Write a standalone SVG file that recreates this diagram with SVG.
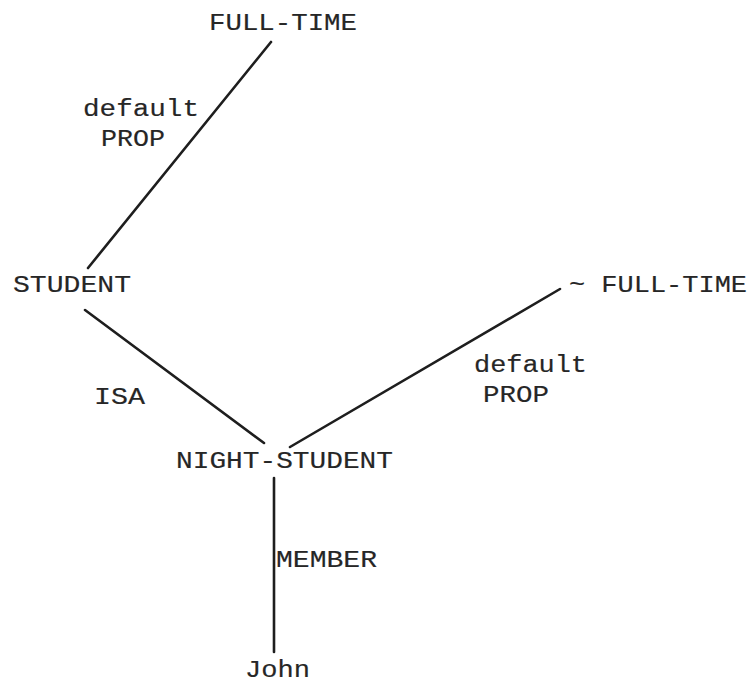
<svg xmlns="http://www.w3.org/2000/svg" width="752" height="688" viewBox="0 0 752 688">
  <style>
    .lbl { font-family: "Liberation Mono", "DejaVu Sans Mono", monospace; font-size: 23px; fill: #262626; stroke: #262626; stroke-width: 0.15; }
    .edge { stroke: #1e1e1e; stroke-width: 2.6; stroke-linecap: round; fill: none; }
  </style>
  <rect width="752" height="688" fill="#ffffff"/>

  <!-- connectors -->
  <g id="connectors">
    <line class="edge" x1="271" y1="42" x2="88" y2="268"/>
    <line class="edge" x1="85" y1="310" x2="264" y2="443"/>
    <line class="edge" x1="560" y1="289" x2="290" y2="447"/>
    <line class="edge" x1="274" y1="478" x2="274" y2="652"/>
    <text class="lbl" x="83" y="116" textLength="116" lengthAdjust="spacingAndGlyphs">default</text>
    <text class="lbl" x="101" y="146" textLength="64" lengthAdjust="spacingAndGlyphs">PROP</text>
    <text class="lbl" x="94" y="404" textLength="51" lengthAdjust="spacingAndGlyphs">ISA</text>
    <text class="lbl" x="474" y="372" textLength="113" lengthAdjust="spacingAndGlyphs">default</text>
    <text class="lbl" x="483" y="402" textLength="66" lengthAdjust="spacingAndGlyphs">PROP</text>
    <text class="lbl" x="276" y="567" textLength="101" lengthAdjust="spacingAndGlyphs">MEMBER</text>
  </g>

  <!-- nodes -->
  <g id="full-time">
    <text class="lbl" x="209" y="30" textLength="148" lengthAdjust="spacingAndGlyphs">FULL-TIME</text>
  </g>
  <g id="student">
    <text class="lbl" x="13" y="292" textLength="118" lengthAdjust="spacingAndGlyphs">STUDENT</text>
  </g>
  <g id="not-full-time">
    <text class="lbl" x="569" y="292" textLength="178" lengthAdjust="spacingAndGlyphs">~ FULL-TIME</text>
  </g>
  <g id="night-student">
    <text class="lbl" x="176" y="468" textLength="217" lengthAdjust="spacingAndGlyphs">NIGHT-STUDENT</text>
  </g>
  <g id="john">
    <text class="lbl" x="245" y="677" textLength="65" lengthAdjust="spacingAndGlyphs">John</text>
  </g>
</svg>
